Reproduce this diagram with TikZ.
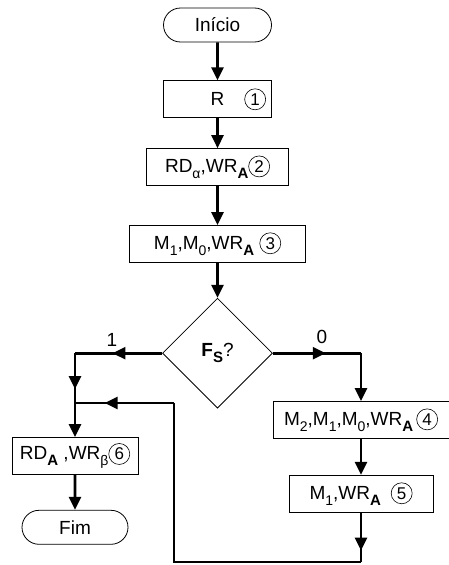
\documentclass[tikz,border=0pt]{standalone}
\usepackage{fontspec}
\setmainfont{Liberation Sans}
\usetikzlibrary{positioning,shapes.geometric,shapes.misc,arrows.meta,decorations.markings}
\newcommand{\sub}[1]{\raisebox{-0.32em}{\fontsize{14}{14}\selectfont #1}}
\newcommand{\bsub}[1]{\raisebox{-0.32em}{\fontsize{15}{15}\selectfont\bfseries #1}}
\newcommand{\cnum}[1]{\tikz[baseline={(cn.base)}]\node[circle, draw, line width=0.6pt, inner sep=0pt, minimum size=21pt, font=\fontsize{17}{17}\selectfont] (cn) {#1};}

\begin{document}
\begin{tikzpicture}[
    x=1pt, y=-1pt,
    font=\fontsize{19}{22}\selectfont,
    term/.style={rounded rectangle, draw, line width=0.8pt, minimum width=108pt, minimum height=34pt, inner sep=0pt},
    stepbox/.style={rectangle, draw, line width=0.8pt, minimum height=37pt, inner sep=0pt},
    decision/.style={diamond, draw, line width=0.8pt, minimum size=110pt, inner sep=0pt},
    flow/.style={line width=2.6pt},
    flowarrow/.style={flow, -{Triangle[length=13pt,width=12pt]}},
    midarrow/.style={flow, postaction={decorate}, decoration={markings, mark=at position #1 with {\arrow{Triangle[length=13pt,width=12pt]}}}}
]
    \useasboundingbox (0,0) rectangle (449,565);

    % main column
    \node[term] (inicio) at (217.5,25) {Início};
    \node[stepbox, minimum width=108pt, below=38pt of inicio] (r) {\hphantom{\cnum{1}}\hspace{20pt}R\hspace{20pt}\cnum{1}};
    \node[stepbox, minimum width=142pt, below=30pt of r] (rd) {RD\sub{α},WR\bsub{A}\cnum{2}};
    \node[stepbox, minimum width=176pt, below=39pt of rd] (m10) {M\sub{1},M\sub{0},WR\bsub{A}\ \cnum{3}};
    \node[decision, below=35pt of m10] (fs) {\textbf{F\bsub{S}}?};

    % branch 0
    \node[stepbox, minimum width=176pt] (m210) at (361,420) {M\sub{2},M\sub{1},M\sub{0},WR\bsub{A}\,\cnum{4}};
    \node[stepbox, minimum width=144pt, below=36pt of m210] (m1) {M\sub{1},WR\bsub{A}\hspace{10pt}\cnum{5}};

    % branch 1
    \node[stepbox, minimum width=126pt] (rda) at (75,456) {RD\bsub{A}\ ,WR\sub{β}\cnum{6}};
    \node[term, minimum width=106pt, below=35pt of rda] (fim) {Fim};

    \coordinate (left) at (rda |- fs.west);
    \coordinate (join) at (75,403);
    \coordinate (right) at (m210 |- fs.east);
    \coordinate (down) at (361,562);
    \coordinate (back) at (174,562);
    \coordinate (up) at (174,403);

    \draw[flowarrow] (inicio) -- (r);
    \draw[flowarrow] (r) -- (rd);
    \draw[flowarrow] (rd) -- (m10);
    \draw[flowarrow] (m10) -- (fs);

    \draw[midarrow=0.57] (fs.west) -- (left);
    \node (one) at (112,340) {1};
    \draw[midarrow=0.72] (left) -- (join);
    \draw[flowarrow] (join) -- (rda);
    \draw[flowarrow] (rda) -- (fim);

    \draw[midarrow=0.6] (fs.east) -- (right);
    \node (zero) at (322,337) {0};
    \draw[flowarrow] (right) -- (m210);
    \draw[flowarrow] (m210) -- (m1);

    \draw[midarrow=0.77] (m1) -- (down);
    \draw[flow] (down) -- (back) -- (up);
    \draw[midarrow=0.7] (up) -- (join);
\end{tikzpicture}
\end{document}
